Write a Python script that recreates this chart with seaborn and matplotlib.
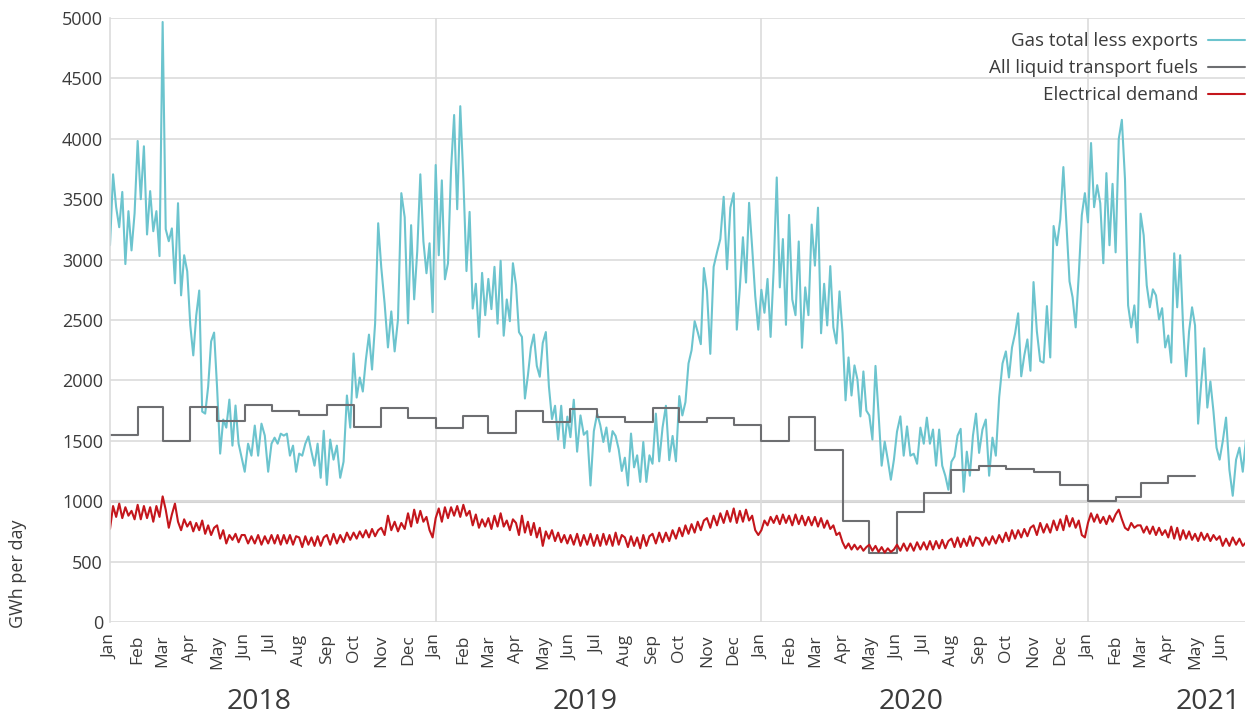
import pandas as pd
import matplotlib
matplotlib.use("Agg")
import matplotlib.pyplot as plt
import matplotlib.dates as mdates
import matplotlib.transforms as mtransforms
import seaborn as sns

# gas total less exports, GWh/day - values per month (about two a week)
gas_2018 = [
    [3119, 3706, 3434, 3268, 3560, 2963, 3401, 3076, 3384],
    [3982, 3500, 3938, 3208, 3567, 3235, 3401, 3029],
    [4967, 3252, 3152, 3258, 2804, 3467, 2704, 3036, 2903],
    [2455, 2207, 2538, 2744, 1742, 1725, 1948, 2323, 2396],
    [1941, 1394, 1676, 1609, 1841, 1460, 1792, 1476, 1360],
    [1244, 1476, 1377, 1626, 1377, 1642, 1543, 1244],
    [1476, 1526, 1476, 1559, 1543, 1559, 1377, 1460, 1244],
    [1394, 1377, 1476, 1536, 1410, 1294, 1476, 1194, 1583],
    [1135, 1510, 1344, 1460, 1194, 1327, 1875, 1609],
    [2223, 1858, 2024, 1908, 2173, 2379, 2090, 2472, 3301],
    [2936, 2638, 2273, 2571, 2240, 2505, 3550, 3351],
    [2472, 3285, 2671, 3069, 3706, 3152, 2887, 3135, 2565],
]
gas_2019 = [
    [3783, 3036, 3656, 2837, 2970, 3750, 4197, 3417, 4270],
    [3670, 2905, 3395, 2595, 2800, 2360, 2890, 2540],
    [2840, 2590, 2940, 2470, 2990, 2370, 2670, 2490, 2970],
    [2790, 2400, 2360, 1850, 2040, 2270, 2380, 2120, 2030],
    [2310, 2400, 1950, 1680, 1790, 1510, 1790, 1440, 1700],
    [1530, 1840, 1410, 1710, 1550, 1580, 1130, 1580],
    [1725, 1630, 1490, 1610, 1410, 1580, 1540, 1430, 1250],
    [1360, 1130, 1560, 1280, 1380, 1160, 1490, 1160, 1380],
    [1310, 1725, 1330, 1610, 1790, 1340, 1540, 1330],
    [1870, 1710, 1820, 2140, 2250, 2490, 2400, 2300, 2930],
    [2740, 2220, 2940, 3060, 3170, 3520, 2920, 3430],
    [3550, 2420, 2770, 3185, 2810, 3470, 3100, 2700, 2420],
]
gas_2020 = [
    [2750, 2560, 2840, 2360, 2920, 3680, 2770, 3170, 2460],
    [3370, 2670, 2540, 3150, 2270, 2770, 2540, 3290],
    [2950, 3430, 2390, 2800, 2455, 2946, 2440, 2306, 2737],
    [2390, 1835, 2190, 1875, 2124, 2007, 1702, 2074, 1750],
    [1710, 1510, 2120, 1725, 1294, 1493, 1344, 1178, 1344],
    [1576, 1702, 1377, 1619, 1377, 1393, 1310, 1609],
    [1476, 1692, 1476, 1593, 1294, 1593, 1294, 1211, 1095],
    [1327, 1370, 1543, 1599, 1078, 1410, 1211, 1543, 1725],
    [1400, 1593, 1676, 1211, 1526, 1377, 1860, 2140],
    [2240, 2024, 2273, 2389, 2555, 2034, 2207, 2339, 2080],
    [2814, 2406, 2160, 2147, 2615, 2190, 3278, 3119],
    [3334, 3766, 3301, 2820, 2688, 2439, 2870, 3368, 3550],
]
gas_2021 = [
    [3308, 3965, 3434, 3616, 3467, 2970, 3716, 3119, 3627],
    [3060, 3998, 4157, 3666, 2621, 2439, 2621, 2313],
    [3380, 3202, 2787, 2605, 2754, 2704, 2505, 2598, 2273],
    [2372, 2147, 3052, 2605, 3036, 2439, 2034, 2406, 2605],
    [2455, 1642, 1974, 2266, 1775, 1991, 1742, 1443, 1344],
    [1493, 1692, 1261, 1045, 1344, 1443, 1244, 1526],
]

# electrical demand, GWh/day - weekday highs / weekend lows per month
elec_2018 = [
    [770, 960, 870, 980, 860, 950, 880, 920, 850],
    [970, 850, 960, 860, 950, 830, 960, 870],
    [1040, 930, 780, 890, 980, 830, 760, 850, 790],
    [830, 750, 820, 760, 840, 730, 800, 720, 780],
    [800, 690, 760, 650, 720, 680, 730, 660, 720],
    [720, 650, 710, 650, 720, 640, 710, 650],
    [720, 650, 720, 640, 720, 650, 720, 640, 710],
    [700, 620, 710, 640, 700, 630, 710, 630, 700],
    [720, 640, 730, 650, 720, 660, 740, 680],
    [740, 690, 750, 700, 760, 700, 770, 710, 760],
    [780, 720, 880, 760, 830, 750, 820, 770],
    [900, 790, 930, 820, 920, 830, 870, 760, 700],
]
elec_2019 = [
    [860, 940, 830, 950, 860, 950, 880, 960, 870],
    [970, 880, 920, 800, 890, 780, 850, 790],
    [860, 770, 880, 790, 900, 790, 840, 760, 850],
    [820, 720, 880, 740, 830, 720, 820, 700, 780],
    [630, 750, 690, 760, 670, 740, 660, 720, 650],
    [720, 640, 730, 630, 720, 640, 730, 630],
    [720, 630, 730, 640, 720, 630, 740, 640, 720],
    [700, 620, 710, 630, 700, 610, 720, 630, 710],
    [730, 650, 740, 660, 740, 670, 760, 690],
    [780, 710, 800, 730, 810, 740, 830, 760, 840],
    [860, 780, 880, 800, 900, 820, 920, 830],
    [940, 820, 920, 830, 930, 840, 880, 760, 720],
]
elec_2020 = [
    [760, 840, 800, 870, 820, 880, 810, 890, 820],
    [880, 800, 890, 810, 880, 800, 870, 800],
    [870, 790, 860, 780, 840, 770, 800, 720, 740],
    [660, 610, 650, 600, 640, 600, 630, 590, 620],
    [640, 590, 630, 580, 620, 575, 610, 580, 600],
    [640, 590, 650, 590, 650, 590, 660, 600],
    [660, 600, 670, 600, 670, 610, 680, 610, 670],
    [690, 620, 700, 620, 690, 630, 710, 630, 700],
    [690, 630, 700, 640, 710, 650, 720, 660],
    [740, 670, 760, 690, 760, 700, 770, 710, 780],
    [800, 720, 820, 740, 810, 740, 840, 760],
    [850, 760, 880, 790, 860, 780, 840, 720, 700],
]
elec_2021 = [
    [820, 900, 830, 890, 820, 870, 810, 880, 830],
    [890, 930, 850, 780, 760, 820, 780, 800],
    [800, 740, 790, 730, 790, 720, 780, 720, 760],
    [700, 790, 690, 780, 680, 760, 690, 750, 680],
    [730, 670, 740, 680, 730, 670, 720, 680, 710],
    [630, 690, 630, 700, 640, 690, 630, 660],
]

# all liquid transport fuels, monthly (Jan 2018 - Apr 2021)
fuel_start = "2018-01-01"
fuel_values = [
    1550, 1780, 1500, 1780, 1668, 1800, 1748, 1712, 1800, 1613, 1768, 1688,
    1608, 1707, 1563, 1743, 1652, 1762, 1693, 1652, 1768, 1652, 1688, 1632,
    1500, 1696, 1425, 832, 570, 907, 1064, 1260, 1293, 1265, 1243, 1136,
    1000, 1034, 1150, 1205,
]

years = [2018, 2019, 2020, 2021]
year_label_dates = ["2018-06-17", "2019-06-17", "2020-06-17", "2021-05-16"]

GAS = "#6cc4ce"
FUEL = "#6d6e71"
ELEC = "#c4161c"
GRID = "#dcdcdc"
TEXT = "#3b3b3b"


def to_frame(blocks):
    rows = []
    for year, months in zip(years, blocks):
        for m, vals in enumerate(months, start=1):
            start = pd.Timestamp(year, m, 1)
            ndays = start.days_in_month
            for i, v in enumerate(vals):
                rows.append((start + pd.Timedelta(days=ndays * i / len(vals)), v))
    return pd.DataFrame(rows, columns=["date", "value"])


gas = to_frame([gas_2018, gas_2019, gas_2020, gas_2021])
elec = to_frame([elec_2018, elec_2019, elec_2020, elec_2021])
fuel = pd.DataFrame({
    "date": pd.date_range(fuel_start, periods=len(fuel_values) + 1, freq="MS"),
    "value": fuel_values + fuel_values[-1:],
})

sns.set_style("white")
plt.rcParams["font.family"] = ["Open Sans", "DejaVu Sans"]

fig = plt.figure(figsize=(12.48, 7.18), dpi=100)
ax = fig.add_axes([110 / 1248, 96 / 718, 1135 / 1248, 604 / 718])

sns.lineplot(data=gas, x="date", y="value", ax=ax, color=GAS, lw=1.5,
             label="Gas total less exports", estimator=None)
sns.lineplot(data=fuel, x="date", y="value", ax=ax, color=FUEL, lw=1.5,
             drawstyle="steps-post", label="All liquid transport fuels", estimator=None)
sns.lineplot(data=elec, x="date", y="value", ax=ax, color=ELEC, lw=1.5,
             label="Electrical demand", estimator=None)

ax.set_ylim(0, 5000)
ax.set_xlim(pd.Timestamp("2018-01-01"), pd.Timestamp("2021-06-26"))
ax.set_yticks(range(0, 5001, 500))
ax.yaxis.grid(True, color=GRID, lw=1.2)
ax.axhline(1000, color="#d4d4d4", lw=2.2, zorder=0.5)
for y in years[1:]:
    ax.axvline(pd.Timestamp(y, 1, 1), color=GRID, lw=1.2, zorder=0.5)
ax.set_axisbelow(True)

for s in ["top", "right", "bottom"]:
    ax.spines[s].set_visible(False)
ax.spines["left"].set_color(GRID)
ax.spines["left"].set_linewidth(1.2)

ax.xaxis.set_major_locator(mdates.MonthLocator())
ax.xaxis.set_major_formatter(mdates.DateFormatter("%b"))
ax.tick_params(axis="x", length=0, pad=9, labelsize=12.5, labelcolor=TEXT, labelrotation=90)
ax.tick_params(axis="y", length=0, pad=5, labelsize=13, labelcolor=TEXT)
for t in ax.get_xticklabels():
    t.set_ha("center")
    t.set_va("top")
ax.set_xlabel("")
ax.set_ylabel("")

fig.text(18 / 1248, 1 - 574 / 718, "GWh per day", rotation=90, ha="center", va="center",
         fontsize=13, color=TEXT)

trans = mtransforms.blended_transform_factory(ax.transData, fig.transFigure)
for d, y in zip(year_label_dates, years):
    ax.text(pd.Timestamp(d), 1 - 702 / 718, str(y), transform=trans, ha="center",
            va="center", fontsize=20.5, color=TEXT)

leg = ax.legend(loc="upper right", bbox_to_anchor=(1.0, 0.976), markerfirst=False,
                frameon=False, fontsize=13.5, handlelength=2.0, handletextpad=0.5,
                labelspacing=0.47, borderaxespad=0, borderpad=0)
for t in leg.get_texts():
    t.set_color(TEXT)

fig.savefig("out.png", dpi=100, facecolor="white")
